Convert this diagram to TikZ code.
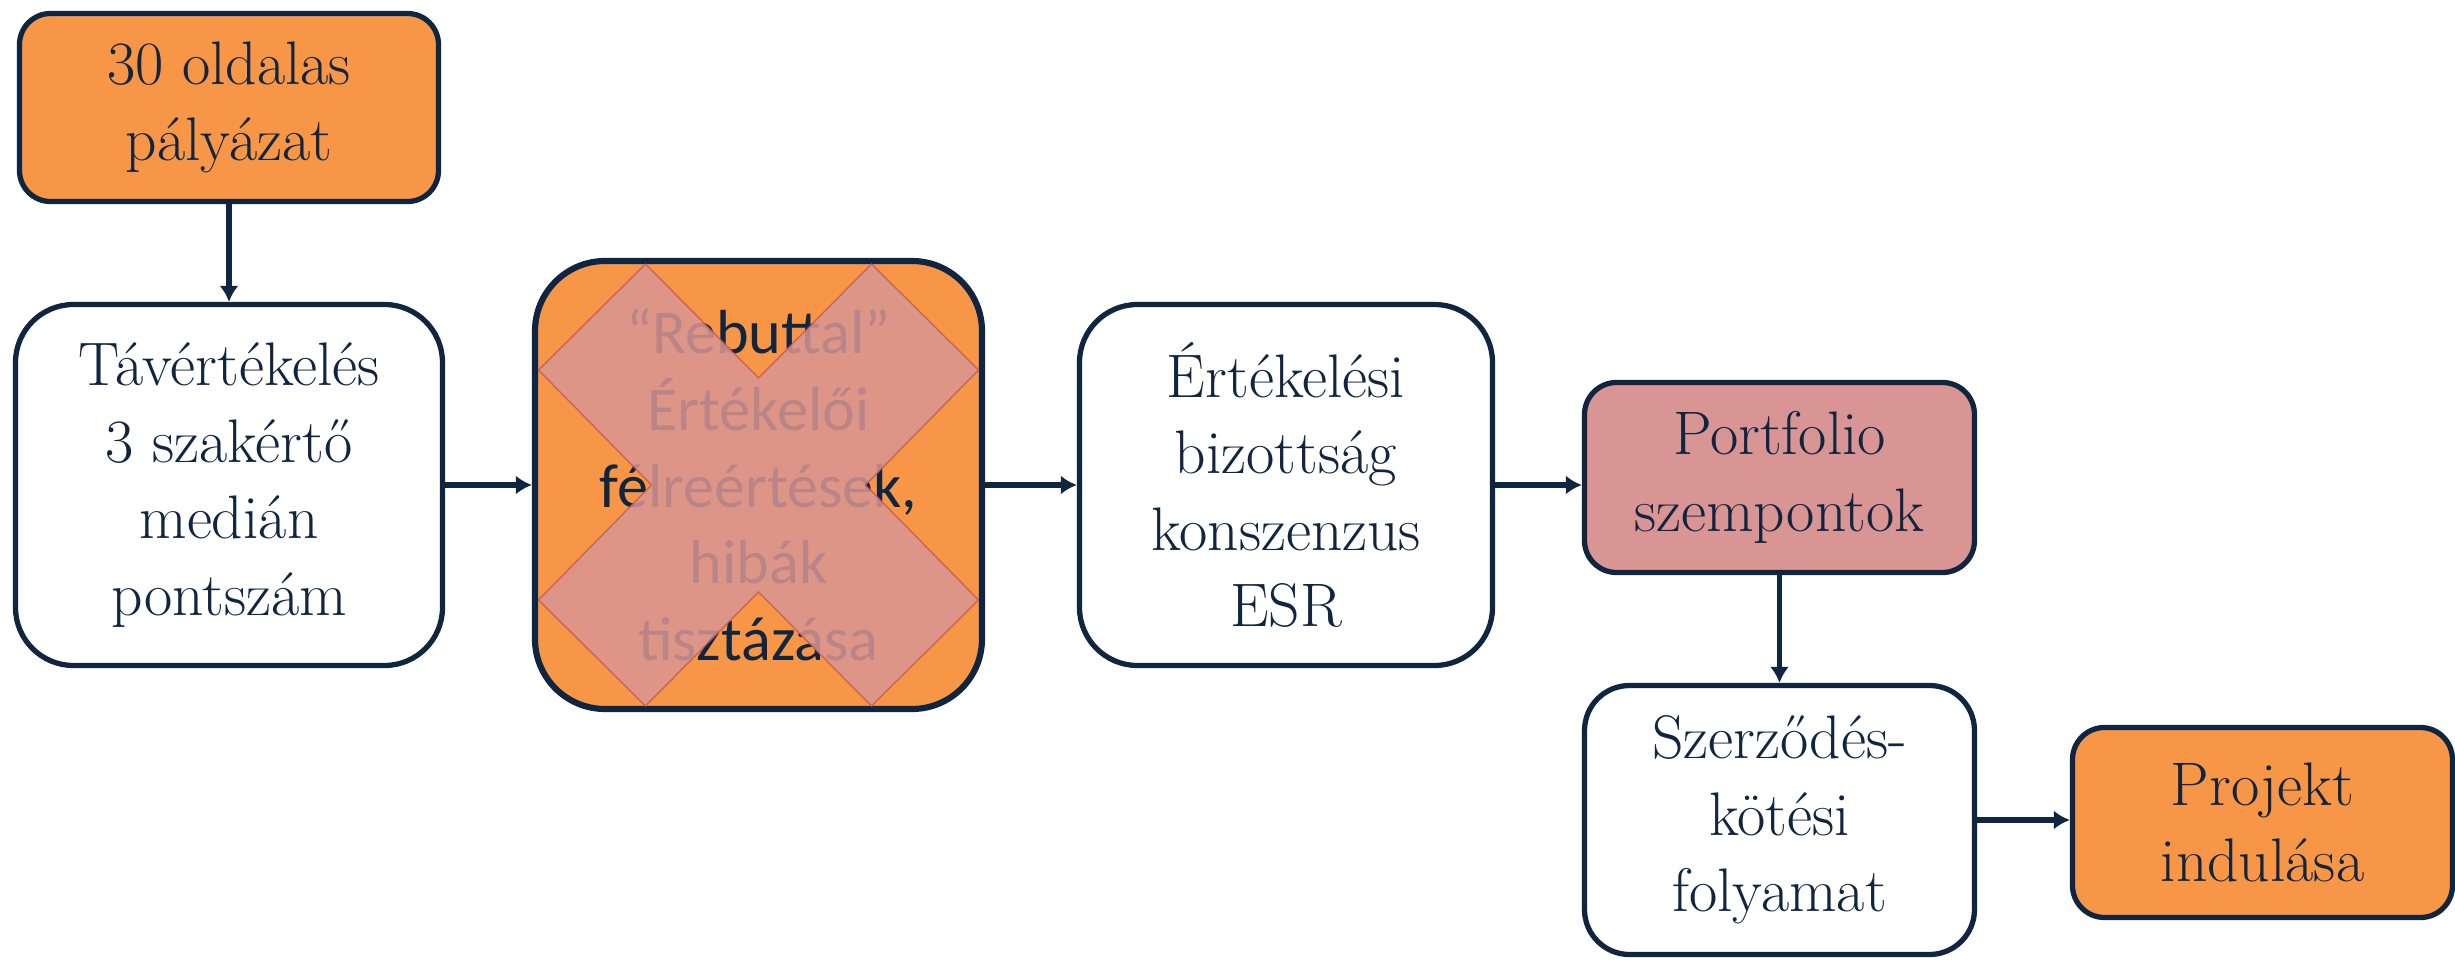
\documentclass[tikz,border=0pt]{standalone}
\usepackage{fontspec}
\newfontfamily\calibri{Carlito}
\usepackage{tikz}
\usetikzlibrary{arrows.meta}
\definecolor{color1}{RGB}{16, 37, 64}
\definecolor{color2}{RGB}{247, 150, 70}
\definecolor{color3}{RGB}{217, 149, 148}
\definecolor{color4}{RGB}{192, 80, 77}

\begin{document}
\begin{tikzpicture}[
	box/.style={draw=color1, line width=1.5pt, align=center, inner sep=0pt, text=color1, font=\fontsize{17.5}{21.8}\selectfont},
	link/.style={color1, line width=1.7pt, -{Latex[length=1.6mm, width=1.9mm]}}]
	\useasboundingbox (0,0) rectangle (24.55,9.63);
	\node[box, fill=color2, minimum width=4.19cm, minimum height=1.88cm, rounded corners=0.31cm] (pal) at (2.29,8.555) {30 oldalas\\pályázat};
	\node[box, fill=white, minimum width=4.27cm, minimum height=3.61cm, rounded corners=0.58cm] (tav) at (2.29,4.78) {Távértékelés\\3 szakértő\\medián\\pontszám};
	\node[box, fill=color2, line width=1.75pt, minimum width=4.47cm, minimum height=4.48cm, rounded corners=0.7cm, font=\calibri\fontsize{17.7}{21.8}\selectfont] (reb) at (7.585,4.78) {“Rebuttal”\\Értékelői\\félreértések,\\hibák\\tisztázása};
	\node[box, fill=white, minimum width=4.13cm, minimum height=3.61cm, rounded corners=0.58cm] (ert) at (12.86,4.78) {Értékelési\\bizottság\\konszenzus\\ESR};
	\node[box, fill=color3, minimum width=3.90cm, minimum height=1.90cm, rounded corners=0.32cm] (port) at (17.795,4.855) {Portfolio\\szempontok};
	\node[box, fill=white, minimum width=3.90cm, minimum height=2.69cm, rounded corners=0.45cm] (szer) at (17.795,1.43) {Szerződés-\\kötési\\folyamat};
	\node[box, fill=color2, minimum width=3.80cm, minimum height=1.90cm, rounded corners=0.32cm] (proj) at (22.625,1.405) {Projekt\\indulása};
	% athuzas
	\draw[shift={(reb.center)}, fill=color3, fill opacity=0.85, draw=color4, draw opacity=0.7, line width=0.4pt] (-1.13,2.21) -- (0,1.07) -- (1.13,2.21) -- (2.20,1.15) -- (1.07,0) -- (2.20,-1.15) -- (1.13,-2.21) -- (0,-1.07) -- (-1.13,-2.21) -- (-2.20,-1.15) -- (-1.07,0) -- (-2.20,1.15) -- cycle;
	\draw[link] (pal) -- (tav);
	\draw[link] (tav) -- (reb);
	\draw[link] (reb) -- (ert);
	\draw[link] (ert.east) -- (ert.east -| port.west);
	\draw[link] (port) -- (szer);
	\draw[link] (szer.east) -- (szer.east -| proj.west);
\end{tikzpicture}
\end{document}
